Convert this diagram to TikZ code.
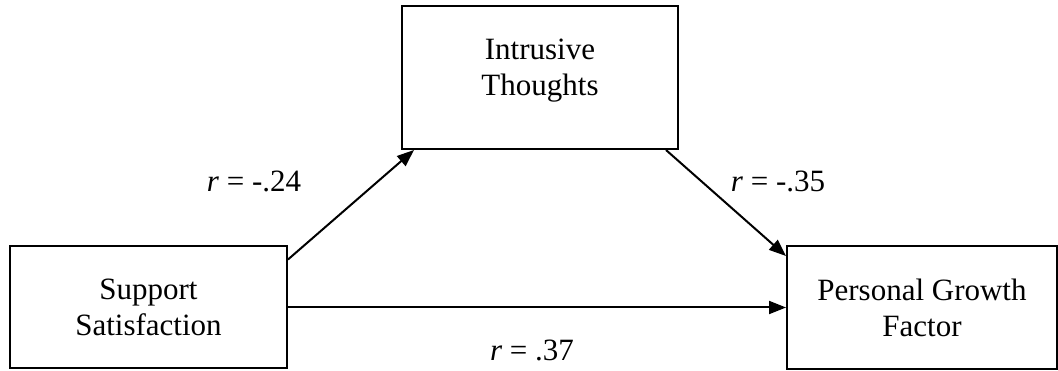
\documentclass[tikz,border=0pt]{standalone}
\usepackage{fontspec}
\setmainfont{Liberation Serif}
\usetikzlibrary{arrows.meta}
\begin{document}
\begin{tikzpicture}[x=1pt,y=-1pt,
  box/.style={draw,line width=2pt,inner sep=0pt,align=center,font=\fontsize{31}{36}\selectfont},
  lab/.style={anchor=base,inner sep=0pt,font=\fontsize{31}{36}\selectfont},
  arr/.style={line width=2pt,-{Triangle[length=17pt,width=13pt]}}]
\useasboundingbox (0,0) rectangle (1058,371);
\node[box,minimum width=277pt,minimum height=122pt] (L) at (148.5,307.5) {Support\\Satisfaction};
\node[box,minimum width=276pt,minimum height=143pt,text depth=21pt] (T) at (540,77.5) {Intrusive\\Thoughts};
\node[box,minimum width=270pt,minimum height=123pt] (R) at (922,307.5) {Personal Growth\\Factor};
\draw[arr] ([yshift=-14pt]L.north east) -- ([xshift=13pt]T.south west);
\draw[arr] ([xshift=-13pt]T.south east) -- ([yshift=-11pt]R.north west);
\draw[arr] (L.east) -- (R.west);
\node[lab] (l1) at (254,192) {\textit{r} = -.24};
\node[lab] (l2) at (778,192) {\textit{r} = -.35};
\node[lab] (l3) at (532,360) {\textit{r} = .37};
\end{tikzpicture}
\end{document}
